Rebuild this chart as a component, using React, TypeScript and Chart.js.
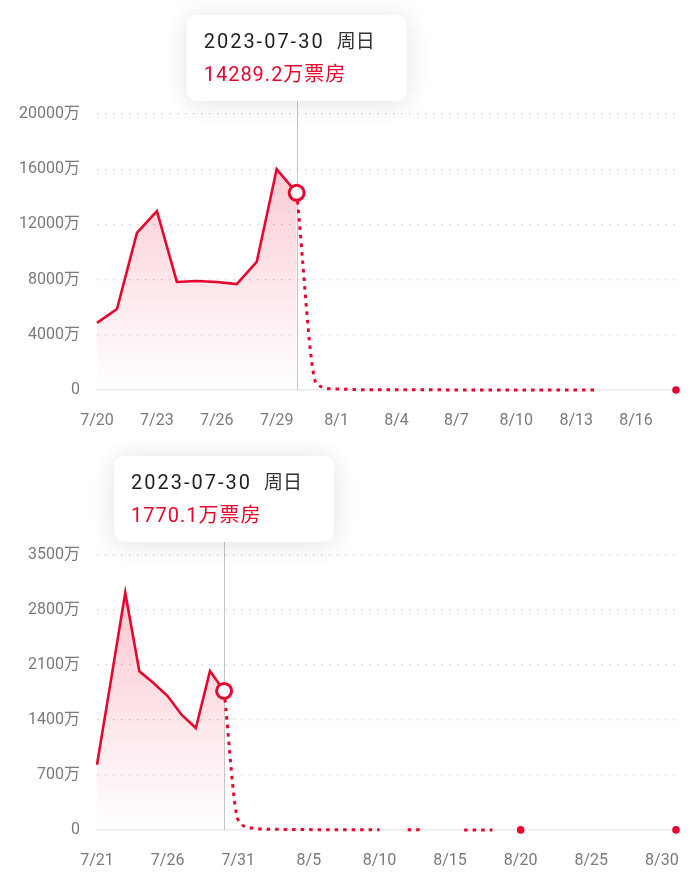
import React, { useEffect, useRef } from "react";
import { Chart, registerables } from "chart.js";

Chart.register(...registerables);

const RED = "#e8062e";
const FONT = "Roboto, 'Noto Sans CJK SC', sans-serif";

// ---------- Chart A ----------
const datesA = [
  "7/20", "7/21", "7/22", "7/23", "7/24", "7/25", "7/26", "7/27", "7/28", "7/29", "7/30", "7/31",
  "8/1", "8/2", "8/3", "8/4", "8/5", "8/6", "8/7", "8/8", "8/9", "8/10", "8/11", "8/12", "8/13",
  "8/14", "8/15", "8/16", "8/17", "8/18",
];
const ticksA = ["7/20", "7/23", "7/26", "7/29", "8/1", "8/4", "8/7", "8/10", "8/13", "8/16"];
const actualA: (number | null)[] = [
  4860, 5870, 11380, 12970, 7830, 7900, 7830, 7680, 9280, 16010, 14289.2,
];
const laterA: (number | null)[] = [
  null, null, null, null, null, null, null, null, null, null, 14289.2, 430,
  70, 30, 20, 15, 12, 10, 8, 8, 6, 6, 5, 5, 4,
  4, null, null, null, 3,
];
const yTicksA = [0, 4000, 8000, 12000, 16000, 20000];

// ---------- Chart B ----------
const datesB = [
  "7/21", "7/22", "7/23", "7/24", "7/25", "7/26", "7/27", "7/28", "7/29", "7/30", "7/31",
  "8/1", "8/2", "8/3", "8/4", "8/5", "8/6", "8/7", "8/8", "8/9", "8/10", "8/11", "8/12", "8/13",
  "8/14", "8/15", "8/16", "8/17", "8/18", "8/19", "8/20", "8/21", "8/22", "8/23", "8/24", "8/25",
  "8/26", "8/27", "8/28", "8/29", "8/30", "8/31",
];
const ticksB = ["7/21", "7/26", "7/31", "8/5", "8/10", "8/15", "8/20", "8/25", "8/30"];
const actualB: (number | null)[] = [830, 1920, 3020, 2020, 1870, 1705, 1464, 1298, 2024, 1770.1];
const laterB: (number | null)[] = [
  null, null, null, null, null, null, null, null, null, 1770.1, 127,
  25, 10, 8, 6, 5, 4, 4, 3, 3, 2, null, 2, 2,
  null, null, 1, 1, 1, null, 1, null, null, null, null, null,
  null, null, null, null, null, 1,
];
const yTicksB = [0, 700, 1400, 2100, 2800, 3500];

type Props = {
  labels: string[];
  tickLabels: string[];
  actual: (number | null)[];
  later: (number | null)[];
  yTicks: number[];
  hlIndex: number;
  dateText: string;
  weekText: string;
  valueText: string;
  areaTop: number;
  areaBottom: number;
  xPad: number;
  offsetTop: number;
};

function LineChart(p: Props) {
  const ref = useRef<HTMLCanvasElement | null>(null);
  useEffect(() => {
    if (!ref.current) return;
    const H = 442;
    const overlay = {
      id: "hl",
      beforeDatasetsDraw(chart: any) {
        const pt = chart.getDatasetMeta(0).data[p.hlIndex];
        const { ctx, chartArea } = chart;
        const boxTop = chartArea.top - 99;
        ctx.save();
        ctx.strokeStyle = "#c4c4c4";
        ctx.lineWidth = 1;
        ctx.beginPath();
        ctx.moveTo(Math.round(pt.x) + 0.5, boxTop + 80);
        ctx.lineTo(Math.round(pt.x) + 0.5, chartArea.bottom);
        ctx.stroke();
        ctx.restore();
      },
      afterDraw(chart: any) {
        const pt = chart.getDatasetMeta(0).data[p.hlIndex];
        const { ctx, chartArea } = chart;
        const x = pt.x;
        const y = pt.y;
        ctx.save();
        ctx.beginPath();
        ctx.arc(x, y, 7.5, 0, Math.PI * 2);
        ctx.fillStyle = "#fff";
        ctx.fill();
        ctx.lineWidth = 3;
        ctx.strokeStyle = RED;
        ctx.stroke();

        const bw = 220;
        const bh = 86;
        const bx = x - bw / 2;
        const by = chartArea.top - 99;
        ctx.shadowColor = "rgba(0,0,0,0.12)";
        ctx.shadowBlur = 26;
        ctx.shadowOffsetY = 2;
        ctx.beginPath();
        ctx.roundRect(bx, by, bw, bh, 10);
        ctx.fillStyle = "#fff";
        ctx.fill();
        ctx.shadowColor = "transparent";
        ctx.shadowBlur = 0;

        ctx.textBaseline = "middle";
        ctx.textAlign = "left";
        ctx.font = `20px ${FONT}`;
        (ctx as any).letterSpacing = "2px";
        ctx.fillStyle = "#1e1e1e";
        ctx.fillText(p.dateText, bx + 17, by + 28);
        const w = ctx.measureText(p.dateText).width;
        (ctx as any).letterSpacing = "0px";
        ctx.font = `19px ${FONT}`;
        ctx.fillStyle = "#333";
        ctx.fillText(p.weekText, bx + 17 + w + 12, by + 28);
        ctx.font = `20px ${FONT}`;
        (ctx as any).letterSpacing = "1px";
        ctx.fillStyle = RED;
        ctx.fillText(p.valueText, bx + 17, by + 61);
        (ctx as any).letterSpacing = "0px";
        ctx.restore();
      },
    };

    const chart = new Chart(ref.current, {
      type: "line",
      data: {
        labels: p.labels,
        datasets: [
          {
            data: p.actual,
            borderColor: RED,
            borderWidth: 2.6,
            pointRadius: 0,
            tension: 0,
            fill: "origin",
            backgroundColor: (c: any) => {
              const { chart: ch } = c;
              const area = ch.chartArea;
              if (!area) return "rgba(232,6,46,0.1)";
              const g = ch.ctx.createLinearGradient(0, area.top, 0, area.bottom);
              g.addColorStop(0, "rgba(232,6,46,0.26)");
              g.addColorStop(0.6, "rgba(232,6,46,0.10)");
              g.addColorStop(1, "rgba(232,6,46,0.0)");
              return g;
            },
          },
          {
            data: p.later,
            clip: false,
            borderColor: RED,
            borderWidth: 3,
            borderDash: [3.5, 5],
            borderCapStyle: "butt",
            cubicInterpolationMode: "monotone",
            fill: false,
            pointBorderWidth: 0,
            pointBackgroundColor: RED,
            pointRadius: (c: any) => {
              const d = p.later;
              const i = c.dataIndex;
              if (d[i] == null) return 0;
              const prev = i > 0 ? d[i - 1] : null;
              const next = i < d.length - 1 ? d[i + 1] : null;
              return prev == null && next == null ? 3.8 : 0;
            },
          },
        ],
      },
      options: {
        animation: false,
        responsive: true,
        maintainAspectRatio: false,
        events: [],
        layout: { padding: { left: 0, right: 24, top: p.areaTop, bottom: 0 } },
        plugins: { legend: { display: false }, tooltip: { enabled: false } },
        scales: {
          x: {
            type: "category",
            offset: false,
            grid: { display: false, drawTicks: false },
            border: { display: true, color: "#e9e9e9", width: 1.5 },
            ticks: {
              autoSkip: false,
              maxRotation: 0,
              padding: p.xPad,
              color: "#7a7a7a",
              font: { family: FONT, size: 16 },
              callback: (_v: any, i: number) =>
                p.tickLabels.includes(p.labels[i]) ? p.labels[i] : "",
            },
            afterFit: (s: any) => {
              s.height = H - p.areaBottom;
            },
          },
          y: {
            min: 0,
            max: p.yTicks[p.yTicks.length - 1],
            afterBuildTicks: (s: any) => {
              s.ticks = p.yTicks.map((v) => ({ value: v }));
            },
            grid: {
              drawTicks: false,
              color: (c: any) => (c.tick && c.tick.value === 0 ? "rgba(0,0,0,0)" : "#dcdcdc"),
              lineWidth: 1.2,
            },
            border: { display: false, dash: [2, 6] },
            ticks: {
              padding: 17,
              color: "#7a7a7a",
              font: { family: FONT, size: 16 },
              callback: (v: any) => (v === 0 ? "0" : `${v}万`),
            },
            afterFit: (s: any) => {
              s.width = 97;
            },
          },
        },
      },
      plugins: [overlay],
    } as any);
    return () => chart.destroy();
  }, []);
  return (
    <div style={{ position: "absolute", left: 0, top: p.offsetTop, width: 700, height: 442 }}>
      <canvas ref={ref} />
    </div>
  );
}

export default function App() {
  return (
    <div
      style={{
        position: "fixed",
        left: 0,
        top: 0,
        width: 700,
        height: 884,
        background: "#fff",
        overflow: "hidden",
      }}
    >
      <LineChart
        labels={datesA}
        tickLabels={ticksA}
        actual={actualA}
        later={laterA}
        yTicks={yTicksA}
        hlIndex={10}
        dateText="2023-07-30"
        weekText="周日"
        valueText="14289.2万票房"
        areaTop={114}
        areaBottom={390}
        xPad={21}
        offsetTop={0}
      />
      <LineChart
        labels={datesB}
        tickLabels={ticksB}
        actual={actualB}
        later={laterB}
        yTicks={yTicksB}
        hlIndex={9}
        dateText="2023-07-30"
        weekText="周日"
        valueText="1770.1万票房"
        areaTop={113}
        areaBottom={388}
        xPad={21}
        offsetTop={442}
      />
    </div>
  );
}
